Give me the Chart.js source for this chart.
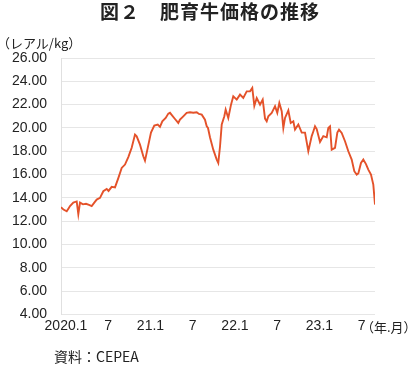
<!DOCTYPE html>
<html>
<head>
<meta charset="utf-8">
<script src="https://cdn.jsdelivr.net/npm/chart.js@4/dist/chart.umd.min.js"></script>
<style>
  body { margin: 0; background: #fff; }
  #wrap { position: relative; width: 420px; height: 367px; font-family: "Noto Sans CJK JP", "Liberation Sans", sans-serif; color: #222; }
  #chart { position: absolute; left: 0; top: 0; }
  .txt { position: absolute; white-space: nowrap; }
  #title { left: 0; width: 420px; top: 0; text-align: center; font-size: 19px; font-weight: bold; letter-spacing: 1px; line-height: 22px; }
  #unit { left: -3px; top: 34px; font-size: 13px; line-height: 18px; }
  #xunit { left: 361px; top: 318px; font-size: 13px; line-height: 18px; }
  #source { left: 54px; top: 346px; font-size: 14px; line-height: 20px; }
</style>
</head>
<body>
<div id="wrap">
  <canvas id="chart" width="420" height="367"></canvas>
  <div class="txt" id="title">図２　肥育牛価格の推移</div>
  <div class="txt" id="unit">（レアル/kg）</div>
  <div class="txt" id="xunit">（年.月）</div>
  <div class="txt" id="source">資料：CEPEA</div>
</div>
<script>
// months counted from 1 = 2020.1 (fractional = position within the month)
const months = [
    0.29, 0.64, 1.10, 1.36, 1.57, 2.04, 2.52, 2.75, 2.99, 3.41,
    3.84, 4.27, 4.65, 5.02, 5.36, 5.83, 6.30, 6.78, 7.04, 7.49,
    7.96, 8.43, 8.91, 9.38, 9.85, 10.33, 10.80, 11.04, 11.51, 11.98,
    12.22, 12.61, 13.07, 13.54, 14.03, 14.35, 14.68, 15.16, 15.53, 15.77,
    16.48, 16.95, 17.19, 17.66, 18.14, 18.61, 19.08, 19.57, 19.89, 20.28,
    20.74, 20.99, 21.17, 21.45, 21.92, 22.41, 22.63, 22.88, 23.12, 23.49,
    23.68, 24.05, 24.44, 24.76, 25.25, 25.72, 26.18, 26.67, 27.14, 27.46,
    27.75, 28.09, 28.56, 28.94, 29.27, 29.51, 29.74, 30.22, 30.45, 30.69,
    31.01, 31.30, 31.64, 31.87, 32.11, 32.58, 32.92, 33.29, 33.53, 34.00,
    34.48, 34.95, 35.42, 35.90, 36.13, 36.37, 36.61, 37.08, 37.55, 38.03,
    38.26, 38.50, 38.74, 39.21, 39.54, 39.78, 40.16, 40.63, 41.10, 41.58,
    41.95, 42.29, 42.52, 42.90, 43.23, 43.61, 43.94, 44.32, 44.65, 44.89
];

// fattened cattle price (BRL/kg)
const prices = [
    13.2, 13.0, 12.85, 13.1, 13.3, 13.6, 13.7, 12.6, 13.6, 13.45,
    13.5, 13.4, 13.3, 13.6, 13.86, 14.0, 14.57, 14.77, 14.6, 14.95,
    14.9, 15.7, 16.57, 16.86, 17.5, 18.3, 19.43, 19.28, 18.57, 17.57,
    17.2, 18.29, 19.6, 20.2, 20.29, 20.09, 20.57, 20.86, 21.23, 21.3,
    20.77, 20.43, 20.71, 21.0, 21.29, 21.34, 21.3, 21.35, 21.2, 21.14,
    20.71, 20.14, 20.0, 19.2, 18.14, 17.29, 17.0, 18.43, 20.3, 21.0,
    21.57, 20.86, 22.0, 22.71, 22.43, 22.86, 22.57, 23.14, 23.14, 23.43,
    21.9, 22.57, 22.0, 22.43, 20.8, 20.57, 21.0, 21.29, 21.57, 21.86,
    21.29, 22.14, 21.43, 20.0, 20.86, 21.5, 20.43, 20.57, 19.86, 20.3,
    19.6, 19.6, 18.0, 19.3, 19.7, 20.14, 19.9, 18.8, 19.3, 19.2,
    20.0, 20.14, 18.14, 18.3, 19.6, 19.86, 19.57, 18.86, 18.0, 17.29,
    16.29, 16.0, 16.1, 17.0, 17.29, 16.9, 16.43, 16.0, 15.14, 13.43
];

const tickMonths = [1, 7, 13, 19, 25, 31, 37, 43];
const tickLabels = ['2020.1', '7', '21.1', '7', '22.1', '7', '23.1', '7'];

const tickFont = { family: '"Liberation Sans", Arial, sans-serif', size: 14 };

new Chart(document.getElementById('chart'), {
    type: 'line',
    data: {
        datasets: [{
            data: months.map((m, i) => ({ x: m, y: prices[i] })),
            borderColor: '#e4522a',
            borderWidth: 1.9,
            pointRadius: 0,
            tension: 0
        }]
    },
    options: {
        responsive: false,
        animation: false,
        events: [],
        layout: { padding: { left: 0, top: 58, right: 45, bottom: 0 } },
        plugins: { legend: { display: false }, tooltip: { enabled: false } },
        scales: {
            x: {
                type: 'linear',
                min: months[0],
                max: months[months.length - 1],
                afterBuildTicks: s => { s.ticks = tickMonths.map(v => ({ value: v })); },
                afterFit: s => { s.height = 52.5; },
                grid: { display: false, drawTicks: false },
                border: { display: false },
                ticks: {
                    autoSkip: false,
                    maxRotation: 0,
                    padding: 3,
                    color: '#222',
                    font: tickFont,
                    callback: v => tickLabels[tickMonths.indexOf(v)]
                }
            },
            y: {
                min: 4,
                max: 26,
                afterFit: s => { s.width = 61; },
                grid: { color: '#e6e6e6', lineWidth: 1, drawTicks: false },
                border: { display: true, color: '#e0e0e0' },
                ticks: {
                    stepSize: 2,
                    padding: 14,
                    color: '#222',
                    font: tickFont,
                    callback: v => v.toFixed(2)
                }
            }
        }
    }
});
</script>
</body>
</html>
